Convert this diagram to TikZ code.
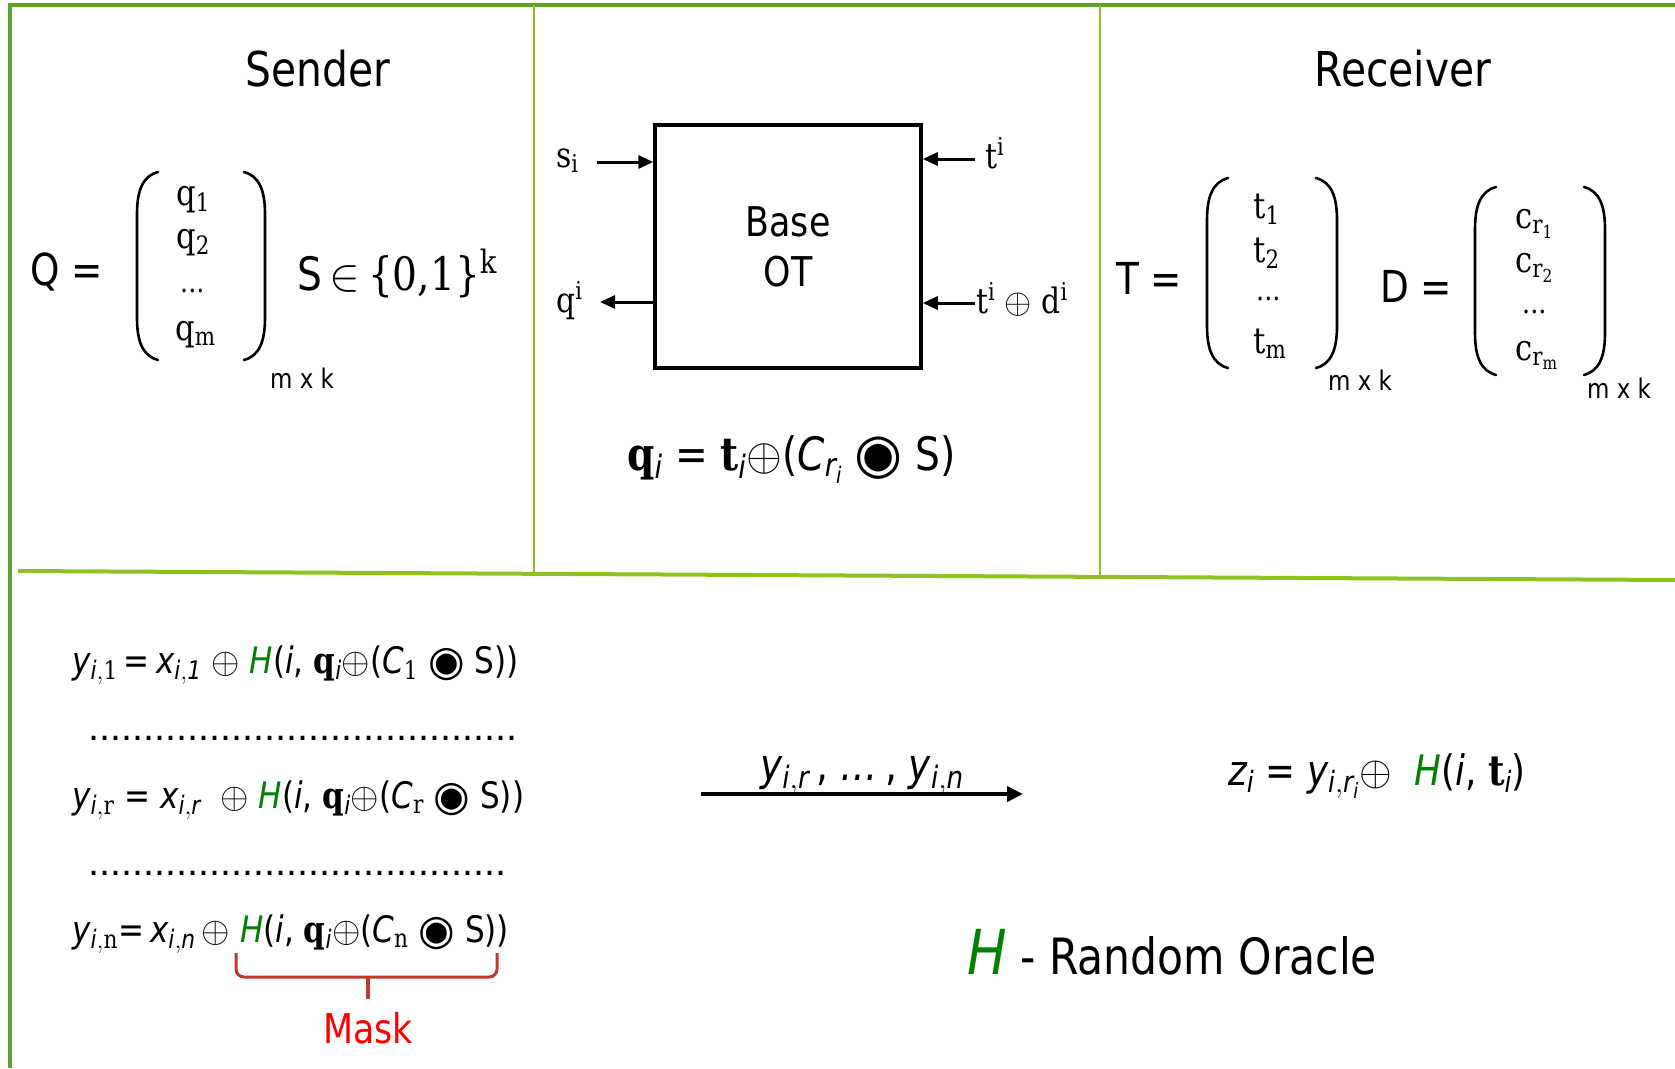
\RequirePackage{fix-cm}
\documentclass[tikz,border=0pt]{standalone}
\usepackage{amsmath}
\usepackage{graphicx}
\usepackage[no-math]{fontspec}
\setmainfont[FakeStretch=0.85]{DejaVu Sans}
\newfontfamily\srf[FakeStretch=0.85]{DejaVu Serif}
\newfontfamily\symfnt{DejaVu Sans}
\newfontfamily\dotfnt{Liberation Sans}
\usetikzlibrary{arrows.meta}
\definecolor{outerg}{RGB}{94,161,46}
\definecolor{innerg}{RGB}{141,194,31}
\definecolor{hgreen}{RGB}{0,128,0}
\definecolor{maskred}{RGB}{255,0,0}
\definecolor{bracered}{RGB}{192,57,43}
\newcommand{\fe}[1][1.15]{\raisebox{-0.06em}{\scalebox{#1}{\symfnt ◉}}}
\newcommand{\su}[1]{\text{\srf\mdseries\upshape #1}}
\newcommand{\bsu}[1]{\text{\srf\bfseries\upshape #1}}
\newcommand{\itv}[1]{\text{\normalfont\itshape #1}}
\newcommand{\Hg}{\textcolor{hgreen}{\itv{H}}}
\newcommand{\fs}[1]{\fontsize{#1}{#1}\selectfont}
\newcommand{\mylpar}[3]{\draw[parline] (#1+21,#2) .. controls (#1+6,#2+4) and (#1,#2+18) .. (#1,#2+42) -- (#1,#3-42) .. controls (#1,#3-18) and (#1+6,#3-4) .. (#1+21,#3);}
\newcommand{\myrpar}[3]{\draw[parline] (#1-21,#2) .. controls (#1-6,#2+4) and (#1,#2+18) .. (#1,#2+42) -- (#1,#3-42) .. controls (#1,#3-18) and (#1-6,#3-4) .. (#1-21,#3);}
\tikzset{
  outerline/.style={draw=outerg, line width=4pt},
  innerline/.style={draw=innerg, line width=2pt},
  sepline/.style={draw=innerg, line width=4pt},
  parline/.style={line width=2.6pt, line cap=round},
  arr/.style={line width=3pt, -{Triangle[length=15pt,width=13pt]}},
  bigarr/.style={line width=4pt, -{Triangle[length=16pt,width=15pt]}},
  txt/.style={inner sep=0pt, anchor=base west},
  ctxt/.style={inner sep=0pt, anchor=base},
  title/.style={inner sep=0pt, anchor=base, font=\fs{48}},
  eqsign/.style={txt, font=\fs{44}},
  entry/.style={txt, font=\fs{36}},
  edots/.style={txt, font=\fs{30}},
  dimtxt/.style={txt, font=\fs{27}},
  portlbl/.style={txt, font=\fs{35}},
  formula/.style={txt, font=\fs{36.5}},
  dotrow/.style={txt, font=\dotfnt\fs{39.6}},
}
\begin{document}
\begin{tikzpicture}[x=1pt, y=-1pt]
\useasboundingbox (0,0) rectangle (1675,1068);
% frame
\draw[outerline] (10,3) -- (10,1068);
\draw[outerline] (8,5) -- (1675,5);
\draw[innerline] (534,5) -- (534,573);
\draw[innerline] (1100,5) -- (1100,575);
\draw[sepline] (18,571) -- (1675,580);

% titles
\node[title] (sender) at (318,86) {Sender};
\node[title] (receiver) at (1403,86) {Receiver};

% Sender panel
\node[eqsign] (qeq) at (30,285) {Q =};
\mylpar{137}{172}{360}
\myrpar{265}{172}{360}
\node[entry] (q1) at (176,205) {\su{q}$_{\su{1}}$};
\node[entry] (q2) at (176,248) {\su{q}$_{\su{2}}$};
\node[edots] (qd) at (180,292) {\su{...}};
\node[entry] (qm) at (175,340) {\su{q}$_{\su{m}}$};
\node[dimtxt] (qdim) at (270,388) {m x k};
\node[txt, font=\fs{46}] (sset) at (297,290) {S\,$\in$\,\su{\{0,1\}}$^{\su{k}}$};

% Base OT panel
\node[draw, line width=3.5pt, minimum width=266pt, minimum height=243pt, align=center, inner sep=0pt, font=\fontsize{41}{50}\selectfont] (ot) at (788,246.5) {Base\\OT};
\node[portlbl] (si) at (556,167) {\su{s}$_{\su{i}}$};
\node[portlbl] (qi) at (556,312) {\su{q}$^{\su{i}}$};
\node[portlbl] (ti) at (985,168) {\su{t}$^{\su{i}}$};
\node[portlbl] (tdi) at (976,313) {\su{t}$^{\su{i}}$ $\oplus$ \su{d}$^{\su{i}}$};
\coordinate (sa) at (597,162);
\coordinate (qa) at (600,302);
\coordinate (ta) at (975,159);
\coordinate (tda) at (975,303);
\draw[arr] (sa) -- (sa -| ot.west);
\draw[arr] (qa -| ot.west) -- (qa);
\draw[arr] (ta) -- (ta -| ot.east);
\draw[arr] (tda) -- (tda -| ot.east);
\node[txt, font=\fs{46}] (qform) at (627,470) {\bsu{q}$_{\itv{i}}$ = \bsu{t}$_{\itv{i}}$$\oplus$(\itv{C}$_{\itv{r}_{\itv{i}}}$ \fe[1.2] S)};

% Receiver panel
\node[eqsign] (teq) at (1116,294) {T =};
\mylpar{1207}{178}{368}
\myrpar{1337}{178}{368}
\node[entry] (t1) at (1253,218) {\su{t}$_{\su{1}}$};
\node[entry] (t2) at (1253,262) {\su{t}$_{\su{2}}$};
\node[edots] (td) at (1256,300) {\su{...}};
\node[entry] (tm) at (1253,353) {\su{t}$_{\su{m}}$};
\node[dimtxt] (tdim) at (1328,390) {m x k};
\node[eqsign] (deq) at (1380,302) {D =};
\mylpar{1475}{187}{375}
\myrpar{1605}{187}{375}
\node[entry] (c1) at (1515,228) {\su{c}$_{\su{r}_{\su{1}}}$};
\node[entry] (c2) at (1515,272) {\su{c}$_{\su{r}_{\su{2}}}$};
\node[edots] (cd) at (1522,313) {\su{...}};
\node[entry] (cm) at (1515,360) {\su{c}$_{\su{r}_{\su{m}}}$};
\node[dimtxt] (ddim) at (1587,398) {m x k};

% bottom: sender computations
\node[formula] (y1) at (72,673) {\itv{y}$_{\itv{i},\su{1}}$\,=\,\itv{x}$_{\itv{i},\itv{1}}$ $\oplus$ \Hg(\itv{i}, \bsu{q}$_{\itv{i}}$$\oplus$(\itv{C}$_{\su{1}}$ \fe{} S))};
\node[dotrow] (dots1) at (88,740) {.......................................};
\node[formula] (yr) at (72,808) {\itv{y}$_{\itv{i},\su{r}}$ = \itv{x}$_{\itv{i},\itv{r}}$ \ $\oplus$ \Hg(\itv{i}, \bsu{q}$_{\itv{i}}$$\oplus$(\itv{C}$_{\su{r}}$ \fe{} S))};
\node[dotrow] (dots2) at (88,875) {......................................};
\node[formula] (yn) at (72,942) {\itv{y}$_{\itv{i},\su{n}}$=\,\itv{x}$_{\itv{i},\itv{n}}$\,$\oplus$ \Hg(\itv{i}, \bsu{q}$_{\itv{i}}$$\oplus$(\itv{C}$_{\su{n}}$ \fe{} S))};
\draw[bracered, line width=3pt, rounded corners=8pt] (236,953) |- (368,977) -| (497,953);
\draw[bracered, line width=3.5pt] (368,977) -- (368,999);
\node[ctxt, text=maskred, font=\fs{41}] (mask) at (368,1043) {Mask};

% transfer
\coordinate (ya) at (701,794);
\coordinate (yb) at (1023,794);
\draw[bigarr] (ya) -- (yb);
\node[ctxt, font=\fs{44}] (ylab) at (862,780) {\itv{y}$_{\itv{i},\itv{r}}$\,, \itv{…}\,, \itv{y}$_{\itv{i},\itv{n}}$};

% receiver output
\node[formula, font=\fs{42}] (zf) at (1228,785) {\itv{z}$_{\itv{i}}$ = \itv{y}$_{\itv{i},\itv{r}_{\itv{i}}}$$\oplus$ \ \Hg(\itv{i}, \bsu{t}$_{\itv{i}}$)};
\node[txt, font=\fs{50}] (ro) at (967,974) {\textcolor{hgreen}{\fontsize{62}{62}\selectfont\itshape H} - Random Oracle};
\end{tikzpicture}
\end{document}
